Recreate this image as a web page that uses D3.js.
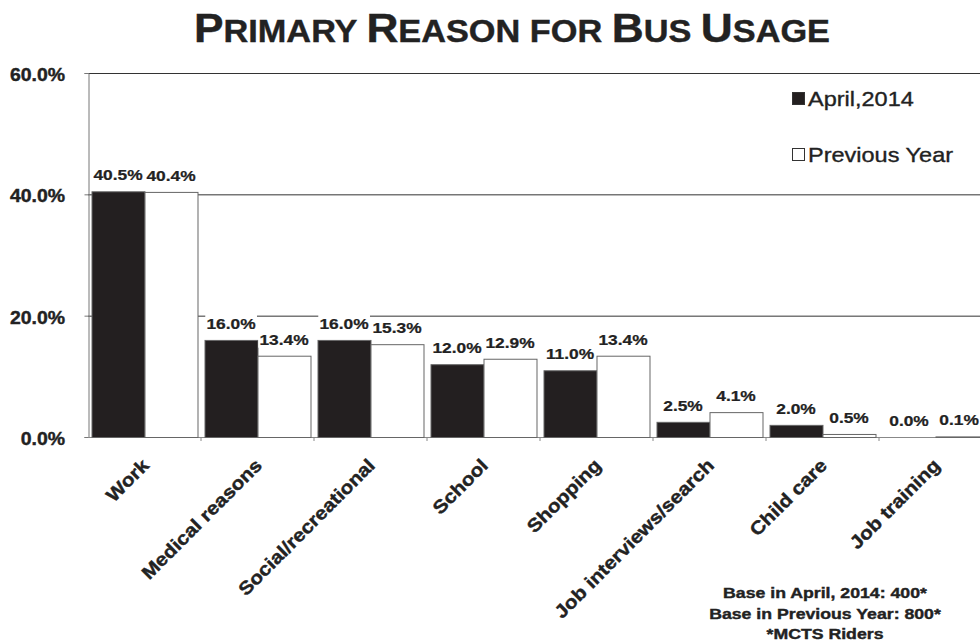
<!DOCTYPE html>
<html>
<head>
<meta charset="utf-8">
<script src="https://cdn.jsdelivr.net/npm/d3@7"></script>
<style>
  body { margin: 0; background: #fff; }
  text { font-family: "Liberation Sans", Arial, sans-serif; fill: #222; }
  .heavy { stroke: #222; stroke-width: 0.4px; }
  .lbl text { stroke: #222; stroke-width: 0.25px; }
</style>
</head>
<body>
<script>
const width = 980;
const height = 644;

const categories = ['Work', 'Medical reasons', 'Social/recreational', 'School', 'Shopping',
    'Job interviews/search', 'Child care', 'Job training'];
const april2014 = [40.5, 16.0, 16.0, 12.0, 11.0, 2.5, 2.0, 0.0];
const previousYear = [40.4, 13.4, 15.3, 12.9, 13.4, 4.1, 0.5, 0.1];
const seriesNames = ['April,2014', 'Previous Year'];
const yTicks = [0, 20, 40, 60];
const footnotes = ['Base in April, 2014: 400*', 'Base in Previous Year: 800*', '*MCTS Riders'];

const svg = d3.select('body')
    .append('svg')
    .attr('width', width)
    .attr('height', height);

const left = 88;
const x = d3.scaleBand()
    .domain(categories)
    .range([left, left + 113 * categories.length])
    .paddingInner(0.062)
    .paddingOuter(0.031);
const xs = d3.scaleBand()
    .domain(seriesNames)
    .range([0, x.bandwidth()]);
const y = d3.scaleLinear().domain([0, 60]).range([437, 73]);

// title (small caps built by hand)
const title = svg.append('text')
    .attr('class', 'heavy')
    .attr('x', 512)
    .attr('y', 42)
    .attr('text-anchor', 'middle')
    .style('font-weight', 'bold')
    .attr('textLength', 636)
    .attr('lengthAdjust', 'spacingAndGlyphs');
[['P', 1], ['RIMARY ', 0], ['R', 1], ['EASON FOR ', 0], ['B', 1], ['US ', 0], ['U', 1], ['SAGE', 0]]
    .forEach(([t, big]) => {
        title.append('tspan').style('font-size', big ? '40px' : '31px').text(t);
    });

// gridlines
svg.append('g')
    .selectAll('line')
    .data(yTicks.filter(d => d > 0))
    .enter()
    .append('line')
    .attr('x1', left)
    .attr('x2', width)
    .attr('y1', d => y(d) + 0.5)
    .attr('y2', d => y(d) + 0.5)
    .attr('stroke', '#333');

// axes
const yAxis = d3.axisLeft(y).tickValues(yTicks).tickSize(4).tickFormat('');
svg.append('g')
    .attr('transform', `translate(${left + 0.5}, 0)`)
    .call(yAxis)
    .call(g => g.selectAll('path, line').attr('stroke', '#777'));

const bottom = svg.append('g');
bottom.append('line')
    .attr('x1', left).attr('x2', width)
    .attr('y1', y(0) + 0.5).attr('y2', y(0) + 0.5)
    .attr('stroke', '#888');
bottom.selectAll('.tk')
    .data(categories)
    .enter()
    .append('line')
    .attr('x1', d => x(d) - x.step() * x.paddingInner() / 2 + x.step())
    .attr('x2', d => x(d) - x.step() * x.paddingInner() / 2 + x.step())
    .attr('y1', y(0))
    .attr('y2', y(0) + 4)
    .attr('stroke', '#888');

// y tick labels
svg.append('g')
    .selectAll('text')
    .data(yTicks)
    .enter()
    .append('text')
    .attr('class', 'heavy')
    .attr('text-anchor', 'end')
    .attr('transform', d => `translate(65, ${y(d) + 8}) scale(1.08, 1)`)
    .style('font-size', '18px')
    .style('font-weight', 'bold')
    .text(d => d.toFixed(1) + '%');

// bars
const rows = categories.map((c, i) => ({ cat: c, vals: [april2014[i], previousYear[i]] }));
const groups = svg.append('g')
    .selectAll('g')
    .data(rows)
    .enter()
    .append('g')
    .attr('transform', d => `translate(${x(d.cat)}, 0)`);

groups.selectAll('rect')
    .data(d => d.vals.map((v, j) => ({ v, s: seriesNames[j], j })))
    .enter()
    .append('rect')
    .attr('x', d => xs(d.s) + 0.5)
    .attr('y', d => y(d.v) + 0.5)
    .attr('width', xs.bandwidth())
    .attr('height', d => y(0) - y(d.v))
    .attr('fill', d => d.j === 0 ? '#231f20' : '#fff')
    .attr('stroke', d => d.v > 0 ? '#666' : 'none');

// value labels
const labels = groups.selectAll('.lbl')
    .data(d => d.vals.map((v, j) => ({ v, s: seriesNames[j] })))
    .enter()
    .append('g')
    .attr('class', 'lbl');
labels.append('text')
    .attr('text-anchor', 'middle')
    .style('font-size', '15.5px')
    .style('font-weight', 'bold')
    .text(d => d.v.toFixed(1) + '%');
labels.each(function (d) {
    const g = d3.select(this);
    const b = g.select('text').node().getBBox();
    const sx = 1.12;
    const gx = x(d3.select(this.parentNode).datum().cat);
    let cx = xs(d.s) + xs.bandwidth() / 2;
    const overflow = gx + cx + (b.width * sx) / 2 - (width - 1);
    if (overflow > 0) cx -= overflow;
    g.attr('transform', `translate(${cx}, ${y(d.v) - 11}) scale(${sx}, 1)`);
    g.insert('rect', 'text')
        .attr('x', b.x - 1).attr('y', b.y)
        .attr('width', b.width + 2).attr('height', b.height)
        .attr('fill', '#fff');
});

// category labels
svg.append('g')
    .selectAll('text')
    .data(categories)
    .enter()
    .append('text')
    .attr('class', 'heavy')
    .attr('text-anchor', 'end')
    .attr('dy', '0.35em')
    .attr('transform', d => `translate(${x(d) + x.bandwidth() / 2 + 1}, 462) rotate(-45) scale(1.12, 1)`)
    .style('font-size', '18.5px')
    .style('font-weight', 'bold')
    .text(d => d);

// legend
const legend = svg.append('g').attr('id', 'legend');
seriesNames.forEach((name, i) => {
    legend.append('rect')
        .attr('x', 792.5)
        .attr('y', 92.5 + i * 56)
        .attr('width', 12)
        .attr('height', 12)
        .attr('fill', i === 0 ? '#231f20' : '#fff')
        .attr('stroke', '#333');
    legend.append('text')
        .attr('transform', `translate(808, ${106 + i * 56}) scale(1.12, 1)`)
        .style('font-size', '21px')
        .style('stroke', '#222')
        .style('stroke-width', '0.35px')
        .text(name);
});

// footnote
svg.append('g')
    .selectAll('text')
    .data(footnotes)
    .enter()
    .append('text')
    .attr('class', 'heavy')
    .attr('text-anchor', 'middle')
    .attr('transform', (d, i) => `translate(825, ${598 + i * 20.5}) scale(1.18, 1)`)
    .style('font-size', '15px')
    .style('font-weight', 'bold')
    .text(d => d);
</script>
</body>
</html>
